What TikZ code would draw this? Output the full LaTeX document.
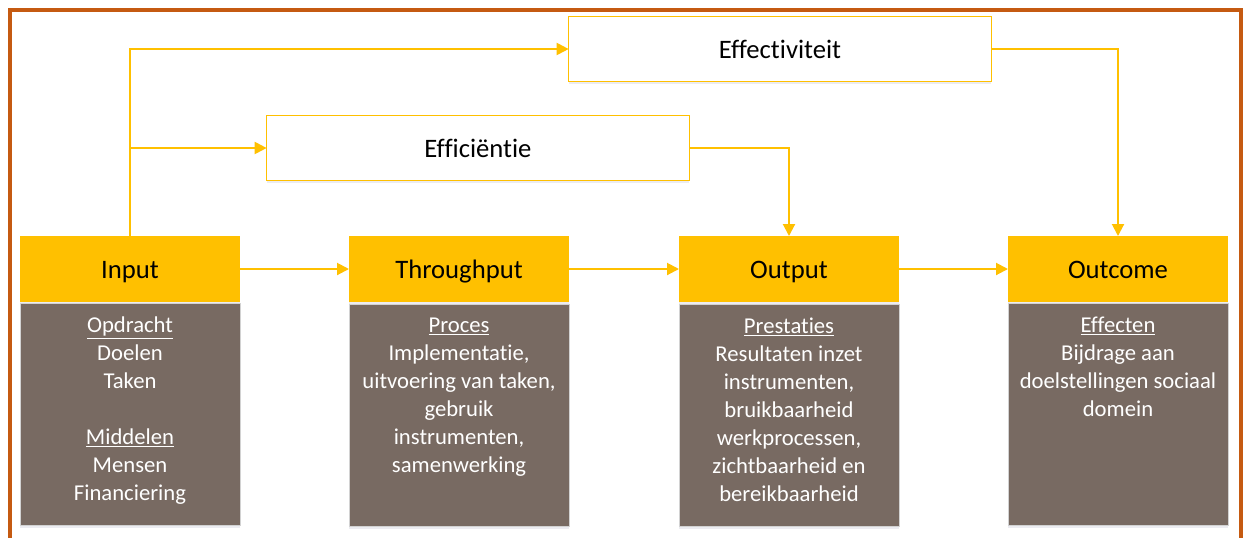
\documentclass[tikz,border=0pt]{standalone}
\usepackage{fontspec}
\setmainfont{Carlito}[Ligatures=NoCommon]
\usetikzlibrary{arrows.meta,shadows}
\definecolor{geel}{HTML}{FFC000}
\definecolor{bruin}{HTML}{786A62}
\definecolor{rand}{HTML}{C55A11}

\begin{document}
\begin{tikzpicture}[x=0.75pt,y=-0.75pt,
  schaduw/.style={drop shadow={shadow xshift=0pt,shadow yshift=-2pt,opacity=0.25,fill=blue!15!gray!50}},
  kop/.style={fill=geel,outer sep=0pt,minimum width=165pt,minimum height=49.5pt,text height=17pt,text depth=2.5pt,font=\fontsize{20}{24}\selectfont,schaduw},
  lijf/.style={fill=bruin,draw=gray!35,line width=0.6pt,outer sep=0pt,minimum width=165pt,minimum height=166.5pt,schaduw},
  tekst/.style={text=white,align=center,font=\fontsize{17}{21}\selectfont,inner sep=0pt,anchor=north},
  maat/.style={draw=geel,line width=1.2pt,fill=white,outer sep=0pt,minimum width=317pt,minimum height=48.75pt,text height=17pt,text depth=2.5pt,font=\fontsize{20}{24}\selectfont,schaduw},
  pijl/.style={draw=geel,line width=1.5pt,-{Triangle[length=9pt,width=9pt]}}]
\clip (0,0) rectangle (1246,537);
\fill[white] (0,0) rectangle (1246,537);
\draw[rand,line width=2.5pt] (10,10) rectangle (1241,580);

% bovenste vakken
\node[maat] (eff) at (780,49) {Effectiviteit};
\node[maat] (efc) at (478,148) {Efficiëntie};

% koppen
\node[kop] (in) at (130,269) {Input};
\node[kop] (thr) at (459,269) {Throughput};
\node[kop] (out) at (789,269) {Output};
\node[kop] (oc) at (1118,269) {Outcome};

% inhoud
\node[lijf] (ib) at (130,414) {};
\node[lijf] (tb) at (459,415) {};
\node[lijf] (ob) at (789,415) {};
\node[lijf] (cb) at (1118,414) {};
\node[tekst] (ibt) at ([yshift=-10pt]ib.north) {\underline{Opdracht}\\Doelen\\Taken\\[21pt]\underline{Middelen}\\Mensen\\Financiering};
\node[tekst] (tbt) at ([yshift=-10pt]tb.north) {\underline{Proces}\\Implementatie,\\uitvoering van taken,\\gebruik\\instrumenten,\\samenwerking};
\node[tekst] (obt) at ([yshift=-10pt]ob.north) {\underline{Prestaties}\\Resultaten inzet\\instrumenten,\\bruikbaarheid\\werkprocessen,\\zichtbaarheid en\\bereikbaarheid};
\node[tekst] (cbt) at ([yshift=-10pt]cb.north) {\underline{Effecten}\\Bijdrage aan\\doelstellingen sociaal\\domein};

% pijlen
\draw[pijl] (in.east) -- (thr.west);
\draw[pijl] (thr.east) -- (out.west);
\draw[pijl] (out.east) -- (oc.west);
\draw[pijl] (in.north) |- (eff.west);
\draw[pijl] (in.north) |- (efc.west);
\draw[pijl] (eff.east) -| (oc.north);
\draw[pijl] (efc.east) -| (out.north);
\end{tikzpicture}
\end{document}
